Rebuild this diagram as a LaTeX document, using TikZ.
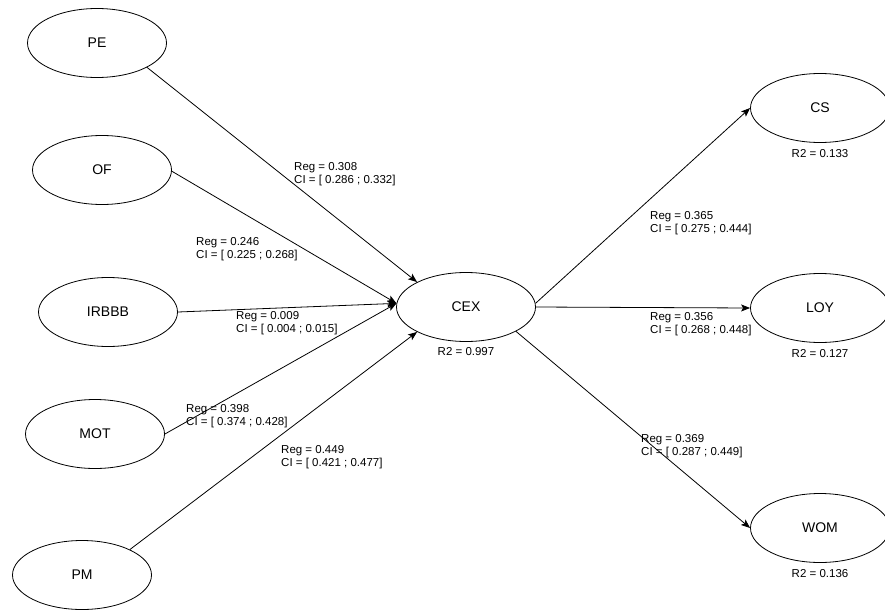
\documentclass[tikz,border=0pt]{standalone}
\usepackage{fontspec}
\setmainfont{Liberation Sans}
\usetikzlibrary{shapes.geometric,arrows.meta}

\begin{document}
\begin{tikzpicture}[x=1pt,y=-1pt,
  construct/.style={draw,ellipse,line width=0.8pt,minimum width=139pt,minimum height=69pt,
    inner sep=0pt,font=\fontsize{14}{16}\selectfont},
  pathway/.style={-{Stealth[length=9pt,width=7pt,inset=2pt]},line width=0.8pt},
  coef/.style={anchor=west,align=left,inner sep=0pt,font=\fontsize{11.5}{13}\selectfont},
  rsq/.style={inner sep=0pt,font=\fontsize{11.5}{13}\selectfont}]

  % One unit = one pixel of the original drawing, y pointing down
  \fill[white] (0,0) rectangle (885,610);
  \useasboundingbox (0,0) rectangle (885,610);

  % Exogenous constructs, stacked on the left
  \foreach \name/\x/\y in {PE/97/43, OF/102/170, IRBBB/108/312, MOT/95/434, PM/82/575}
    \node[construct] (\name) at (\x,\y) {\name};

  % Central construct
  \node[construct] (CEX) at (466,307) {CEX};
  \node[rsq] (rCEX) at (466,352) {R2 = 0.997};

  % Outcome constructs on the right (cut by the page edge)
  \foreach \name/\y/\rr in {CS/108/0.133, LOY/308/0.127, WOM/528/0.136} {
    \node[construct] (\name) at (820,\y) {\name};
    \node[rsq] (r\name) at (820,\y+46) {R2 = \rr};
  }

  % Paths into CEX
  \draw[pathway] (PE.-26)     -- (CEX.153);
  \draw[pathway] (OF.-1)      -- (CEX.177);
  \draw[pathway] (IRBBB.east) -- (CEX.177);
  \draw[pathway] (MOT.east)   -- (CEX.177);
  \draw[pathway] (PM.28)      -- (CEX.207);

  % Paths out of CEX
  \draw[pathway] (CEX.3)   -- (CS.west);
  \draw[pathway] (CEX.east) -- (LOY.west);
  \draw[pathway] (CEX.-26) -- (WOM.west);

  % Path coefficients with their intervals
  \foreach \name/\x/\y/\reg/\lo/\hi in {
      PE/294/174.5/0.308/0.286/0.332,
      OF/196/249.5/0.246/0.225/0.268,
      IRBBB/236/323/0.009/0.004/0.015,
      MOT/186/416/0.398/0.374/0.428,
      PM/281/457/0.449/0.421/0.477,
      CS/650/223.5/0.365/0.275/0.444,
      LOY/650/324.5/0.356/0.268/0.448,
      WOM/641/446/0.369/0.287/0.449}
    \node[coef] (l\name) at (\x,\y) {Reg = \reg\\CI = [ \lo{} ; \hi]};

\end{tikzpicture}
\end{document}
